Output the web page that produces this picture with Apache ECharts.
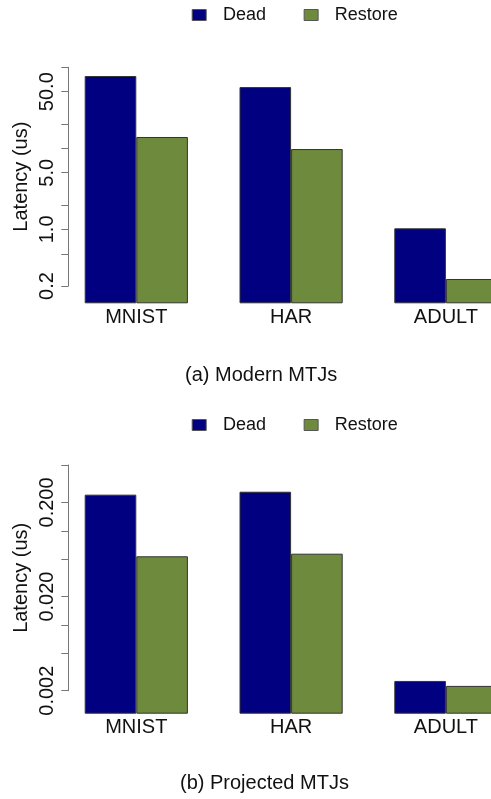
<!DOCTYPE html>
<html>
<head>
<meta charset="utf-8">
<script src="https://cdn.jsdelivr.net/npm/echarts@6/dist/echarts.min.js"></script>
<style>
  html, body { margin: 0; padding: 0; background: #ffffff; }
  #chart { width: 491px; height: 799px; }
</style>
</head>
<body>
<div id="chart"></div>
<script>
// Latency of the dead and restore phases per dataset (microseconds)
const categories = ['MNIST', 'HAR', 'ADULT'];
const seriesNames = ['Dead', 'Restore'];
const modernDead = [78, 57, 1.03];
const modernRestore = [13.8, 9.8, 0.244];
const projectedDead = [0.242, 0.260, 0.00254];
const projectedRestore = [0.0536, 0.0571, 0.00225];

// Log-axis tick marks and the subset that carries a label
const modernTicks = [100, 50, 20, 10, 5, 2, 1, 0.5, 0.2];
const modernLabels = [50, 5, 1, 0.2];
const projectedTicks = [0.5, 0.2, 0.1, 0.05, 0.02, 0.01, 0.005, 0.002];
const projectedLabels = [0.2, 0.02, 0.002];
const panelTitles = ['(a) Modern MTJs', '(b) Projected MTJs'];
const axisTitle = 'Latency (us)';

const FONT = "'Liberation Sans', Arial, Helvetica, sans-serif";
const TEXT = '#111111';
const COLORS = ['#000080', '#6E8B3D'];

const lg = Math.log10;

// Panel geometry: bar grid spans the plot region, the tick grid spans only
// the first..last tick so the axis line stops where the ticks stop.
const panels = [
  { top: 67.3, barH: 236, axisH: 218.7, max: 100, decades: 81.03,
    ticks: modernTicks, labels: modernLabels, digits: 1,
    dead: modernDead, restore: modernRestore, legendTop: 6, titleTop: 365 },
  { top: 465, barH: 248.7, axisH: 225.7, max: 0.5, decades: 94.13,
    ticks: projectedTicks, labels: projectedLabels, digits: 3,
    dead: projectedDead, restore: projectedRestore, legendTop: 416, titleTop: 773 }
];

const grid = [], xAxis = [], yAxis = [], series = [], legend = [], title = [];

panels.forEach((p, i) => {
  const barMin = p.max * Math.pow(10, -p.barH / p.decades);
  const tickMin = Math.min.apply(null, p.ticks);
  const tickMax = Math.max.apply(null, p.ticks);

  // bar grid (its right part runs past the page edge, clipping the last bar)
  grid.push({ left: 58.9, width: 464.4, top: p.top, height: p.barH,
              outerBoundsMode: 'none', containLabel: false });
  xAxis.push({
    type: 'category', gridIndex: 2 * i, data: categories,
    axisLine: { show: false }, axisTick: { show: false },
    axisLabel: { color: TEXT, fontSize: 20, fontFamily: FONT, margin: 4, hideOverlap: false }
  });
  yAxis.push({
    type: 'log', gridIndex: 2 * i, min: barMin, max: p.max, startValue: barMin,
    axisLine: { show: false }, axisTick: { show: false },
    axisLabel: { show: false }, splitLine: { show: false }
  });

  // tick grid (axis decoration on a log10 scale)
  grid.push({ left: 68.3, width: 10, top: p.top, height: p.axisH,
              outerBoundsMode: 'none', containLabel: false });
  xAxis.push({ type: 'value', gridIndex: 2 * i + 1, show: false });
  yAxis.push({
    type: 'value', gridIndex: 2 * i + 1, min: lg(tickMin), max: lg(tickMax),
    name: axisTitle, nameLocation: 'middle', nameRotate: 90, nameGap: 37,
    nameTextStyle: { color: TEXT, fontSize: 20, fontFamily: FONT },
    axisLine: { show: true, lineStyle: { color: '#777777', width: 1 } },
    axisTick: { show: true, length: 7, lineStyle: { color: '#777777', width: 1 },
                customValues: p.ticks.map(lg) },
    axisLabel: { color: TEXT, fontSize: 20, fontFamily: FONT, rotate: 90, margin: 11,
                 customValues: p.labels.map(lg),
                 formatter: v => Math.pow(10, v).toFixed(p.digits) },
    splitLine: { show: false }
  });

  const values = [p.dead, p.restore];
  seriesNames.forEach((name, k) => {
    series.push({
      type: 'bar', name: name, xAxisIndex: 2 * i, yAxisIndex: 2 * i,
      data: values[k], barWidth: 51.6, barGap: '0%',
      itemStyle: { color: COLORS[k], borderColor: '#333333', borderWidth: 1 },
      emphasis: { disabled: true }
    });
  });

  legend.push({
    data: seriesNames, left: 191.7, top: p.legendTop, orient: 'horizontal',
    icon: 'rect', itemWidth: 14, itemHeight: 11, itemGap: 37.7, padding: 0,
    itemStyle: { borderColor: '#555555', borderWidth: 1 },
    textStyle: { color: TEXT, fontSize: 18, fontFamily: FONT, padding: [0, 0, 0, 11.7] },
    selectedMode: false
  });

  title.push({
    text: panelTitles[i], left: i === 0 ? 185 : 180, top: p.titleTop, padding: 0,
    textStyle: { color: TEXT, fontSize: 20, fontWeight: 'normal', fontFamily: FONT }
  });
});

const chart = echarts.init(document.getElementById('chart'), null, { renderer: 'canvas' });
chart.setOption({
  animation: false,
  backgroundColor: '#ffffff',
  color: COLORS,
  grid, xAxis, yAxis, series, legend, title
});
</script>
</body>
</html>
